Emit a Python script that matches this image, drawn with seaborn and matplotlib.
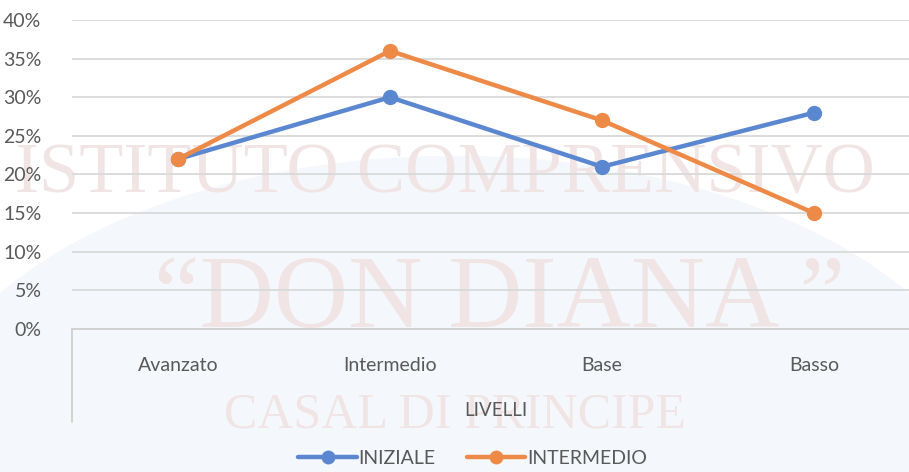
import matplotlib
matplotlib.use("Agg")
import matplotlib.pyplot as plt
import pandas as pd
import seaborn as sns
from matplotlib.lines import Line2D
from matplotlib.patches import Ellipse
from matplotlib.ticker import PercentFormatter

livelli = ["Avanzato", "Intermedio", "Base", "Basso"]
iniziale = [22, 30, 21, 28]
intermedio = [22, 36, 27, 15]
series_names = ["INIZIALE", "INTERMEDIO"]
y_ticks = [0, 5, 10, 15, 20, 25, 30, 35, 40]

colors = {"INIZIALE": "#5B86D0", "INTERMEDIO": "#EE8A47"}
text_gray = "#595959"

data = pd.DataFrame({
    "livello": livelli * 2,
    "valore": iniziale + intermedio,
    "serie": [series_names[0]] * len(livelli) + [series_names[1]] * len(livelli),
})

sns.set_theme(style="white")
plt.rcParams["font.family"] = ["Lato", "DejaVu Sans"]

fig = plt.figure(figsize=(9.09, 4.72), dpi=100)
fig.patch.set_facecolor("white")

# faint school watermark behind the chart
fig.patches.append(Ellipse((0.50, 0.02), 1.2, 1.3, transform=fig.transFigure,
                           facecolor="#f4f8fc", edgecolor="none", zorder=-3))
wm = dict(family="Liberation Serif", color="#f1e4e4", ha="center", va="center", zorder=-2)
fig.text(0.49, 0.63, "ISTITUTO COMPRENSIVO", fontsize=52, **wm)
fig.text(0.55, 0.36, "\u201cDON DIANA \u201d", fontsize=74, **wm)
fig.text(0.50, 0.12, "CASAL DI PRINCIPE", fontsize=36, **wm)

ax = fig.add_axes([0.0792, 0.303, 0.933, 0.6547])
ax.patch.set_visible(False)

sns.lineplot(data=data, x="livello", y="valore", hue="serie", palette=colors,
             marker="o", markersize=11, markeredgewidth=0, linewidth=3.2,
             sort=False, ax=ax, legend=False)

ax.set_xlim(-0.5, 3.5)
ax.set_ylim(0, 40)
ax.set_yticks(y_ticks)
ax.yaxis.set_major_formatter(PercentFormatter(decimals=0))
ax.grid(axis="y", color="#d9d9d9", linewidth=1.3)
ax.grid(axis="x", visible=False)
for side in ["top", "right", "left"]:
    ax.spines[side].set_visible(False)
ax.spines["bottom"].set_color("#d0d0d0")
ax.spines["bottom"].set_linewidth(1.3)

ax.tick_params(axis="y", length=0, pad=22, labelsize=14, labelcolor=text_gray)
ax.tick_params(axis="x", length=0, pad=20, labelsize=14, labelcolor=text_gray)
ax.set_xlabel("LIVELLI", fontsize=13.5, color=text_gray, labelpad=20)
ax.set_ylabel("")

# vertical border of the category area
ax.add_line(Line2D([0, 0], [0, -0.30], transform=ax.transAxes, color="#d0d0d0",
                   linewidth=1.3, clip_on=False))

handles = [Line2D([], [], color=colors[s], marker="o", markersize=10,
                  markeredgewidth=0, linewidth=3.2) for s in series_names]
fig.legend(handles, series_names, loc="center", bbox_to_anchor=(0.52, 0.028),
           ncol=2, frameon=False, fontsize=14, labelcolor=text_gray,
           handlelength=3.0, handletextpad=0.1, columnspacing=1.6)

fig.savefig("out.png", dpi=100)
